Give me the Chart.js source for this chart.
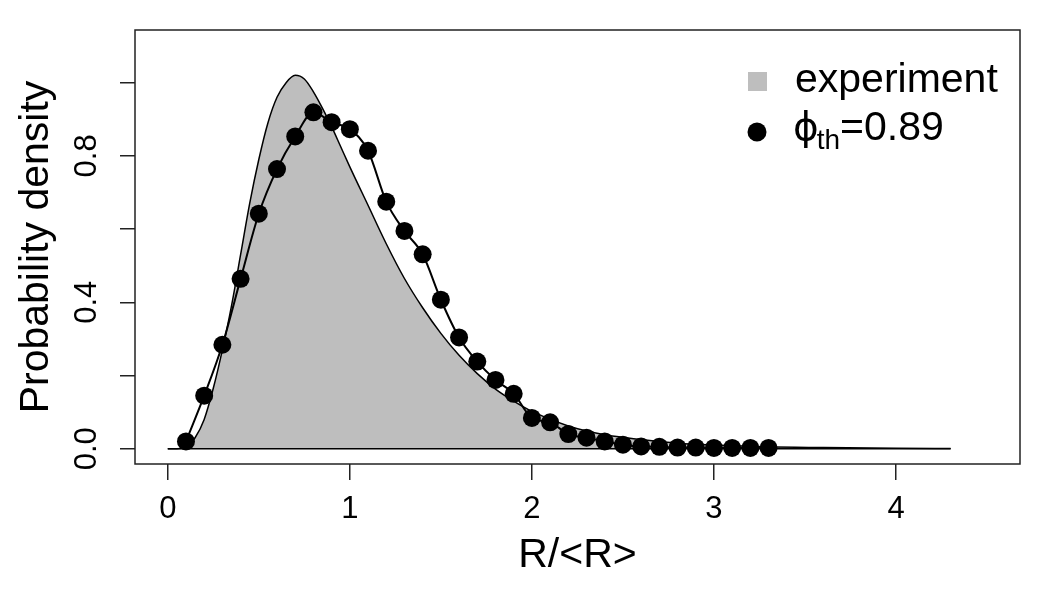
<!DOCTYPE html>
<html>
<head>
<meta charset="utf-8">
<script src="https://cdn.jsdelivr.net/npm/chart.js@4.4.0/dist/chart.umd.min.js"></script>
<style>
  html, body { margin: 0; padding: 0; background: #ffffff; }
  #wrap { width: 1050px; height: 600px; }
</style>
</head>
<body>
<div id="wrap"><canvas id="myChart" width="1050" height="600"></canvas></div>
<script>
// experiment curve (grey filled)
const curveX = [0, 0.05, 0.1, 0.15, 0.2, 0.25, 0.3, 0.35, 0.4, 0.45, 0.5, 0.55, 0.6, 0.65, 0.7, 0.75, 0.8, 0.85, 0.9, 0.95, 1.0, 1.1, 1.2, 1.3, 1.4, 1.5, 1.6, 1.7, 1.8, 1.9, 2.0, 2.2, 2.4, 2.6, 2.8, 3.0, 3.3, 3.6, 4.0, 4.3];
const curveY = [0, 0, 0.003, 0.03, 0.08, 0.165, 0.27, 0.39, 0.53, 0.67, 0.79, 0.89, 0.96, 1.0, 1.02, 1.01, 0.975, 0.93, 0.88, 0.825, 0.77, 0.665, 0.56, 0.465, 0.385, 0.315, 0.255, 0.205, 0.163, 0.13, 0.102, 0.062, 0.038, 0.025, 0.015, 0.01, 0.005, 0.003, 0.001, 0.0005];

// the polygon bottom edge
const baseX = [0, 4.3];
const baseY = [0, 0];

// theory points (phi_th = 0.89)
const pointX = [0.1, 0.2, 0.3, 0.4, 0.5, 0.6, 0.7, 0.8, 0.9, 1.0, 1.1, 1.2, 1.3, 1.4, 1.5, 1.6, 1.7, 1.8, 1.9, 2.0, 2.1, 2.2, 2.3, 2.4, 2.5, 2.6, 2.7, 2.8, 2.9, 3.0, 3.1, 3.2, 3.3];
const pointY = [0.02, 0.145, 0.284, 0.464, 0.642, 0.764, 0.853, 0.919, 0.892, 0.873, 0.814, 0.675, 0.595, 0.531, 0.407, 0.304, 0.238, 0.188, 0.150, 0.084, 0.072, 0.040, 0.030, 0.020, 0.011, 0.006, 0.005, 0.003, 0.003, 0.002, 0.002, 0.002, 0.002];

// ticks
const xTicks = [0, 1, 2, 3, 4];
const yTicks = [0, 0.2, 0.4, 0.6, 0.8, 1.0];
const yLabelled = [0, 0.4, 0.8];

const legendLabels = ['experiment', '0.89'];

const FONT = "'Liberation Sans', Arial, Helvetica, sans-serif";

// make {x,y} pairs
function pairs(xs, ys) {
  let out = [];
  for (let i = 0; i < xs.length; i++) {
    out.push({ x: xs[i], y: ys[i] });
  }
  return out;
}

// box around the plot area + the legend in the top right
const boxAndLegend = {
  id: 'boxAndLegend',
  afterDraw(chart) {
    const ctx = chart.ctx;
    const a = chart.chartArea;
    ctx.save();
    ctx.strokeStyle = '#222222';
    ctx.lineWidth = 1.5;
    ctx.strokeRect(a.left, a.top, a.right - a.left, a.bottom - a.top);

    // legend keys
    ctx.fillStyle = '#bebebe';
    ctx.fillRect(748, 72, 19, 19);
    ctx.fillStyle = '#000000';
    ctx.beginPath();
    ctx.arc(757, 132, 9.5, 0, Math.PI * 2);
    ctx.fill();

    // legend text
    ctx.textAlign = 'left';
    ctx.textBaseline = 'alphabetic';
    ctx.font = '41px ' + FONT;
    ctx.fillText(legendLabels[0], 795, 92);
    // straight phi like R's symbol font
    ctx.font = "39px 'DejaVu Sans', " + FONT;
    ctx.fillText('\u03D5', 793, 140);
    let phiW = ctx.measureText('\u03D5').width;
    ctx.font = '28px ' + FONT;
    ctx.fillText('th', Math.max(806, 793 + phiW - 2), 149);
    ctx.font = '41px ' + FONT;
    ctx.fillText('=' + legendLabels[1], 840, 140);
    ctx.restore();
  }
};

const ctx = document.getElementById('myChart').getContext('2d');
const myChart = new Chart(ctx, {
  type: 'scatter',
  data: {
    datasets: [
      {
        label: 'phi_th=0.89',
        data: pairs(pointX, pointY),
        showLine: true,
        borderColor: '#000000',
        borderWidth: 2,
        backgroundColor: '#000000',
        pointRadius: 9,
        pointBorderWidth: 0,
        cubicInterpolationMode: 'monotone',
        order: 1
      },
      {
        label: 'base',
        data: pairs(baseX, baseY),
        showLine: true,
        borderColor: '#000000',
        borderWidth: 1.5,
        pointRadius: 0,
        order: 2
      },
      {
        label: 'experiment',
        data: pairs(curveX, curveY),
        showLine: true,
        borderColor: '#000000',
        borderWidth: 1.5,
        backgroundColor: '#bebebe',
        fill: 'origin',
        pointRadius: 0,
        cubicInterpolationMode: 'monotone',
        order: 3
      }
    ]
  },
  options: {
    responsive: false,
    animation: false,
    events: [],
    layout: { padding: { left: 0, top: 30, right: 30, bottom: 0 } },
    plugins: {
      legend: { display: false },
      tooltip: { enabled: false }
    },
    scales: {
      x: {
        type: 'linear',
        min: -0.18,
        max: 4.681,
        afterBuildTicks: function (scale) {
          scale.ticks = xTicks.map(v => ({ value: v }));
        },
        afterFit: function (scale) { scale.height = 136; },
        border: { display: false },
        grid: {
          drawOnChartArea: false,
          drawTicks: true,
          tickLength: 16,
          color: '#222222',
          lineWidth: 1.5
        },
        ticks: {
          color: '#000000',
          font: { family: FONT, size: 31 },
          padding: 11,
          maxRotation: 0,
          autoSkip: false,
          callback: function (v) { return String(v); }
        },
        title: {
          display: true,
          text: 'R/<R>',
          color: '#000000',
          font: { family: FONT, size: 41 },
          padding: { top: 0, bottom: 20 }
        }
      },
      y: {
        type: 'linear',
        min: -0.0418,
        max: 1.1439,
        afterBuildTicks: function (scale) {
          scale.ticks = yTicks.map(v => ({ value: v }));
        },
        afterFit: function (scale) { scale.width = 135; },
        border: { display: false },
        grid: {
          drawOnChartArea: false,
          drawTicks: true,
          tickLength: 15,
          color: '#222222',
          lineWidth: 1.5
        },
        ticks: {
          color: '#000000',
          font: { family: FONT, size: 31 },
          padding: 11,
          minRotation: 90,
          maxRotation: 90,
          crossAlign: 'center',
          autoSkip: false,
          callback: function (v) {
            // R only put labels on every other tick
            for (let i = 0; i < yLabelled.length; i++) {
              if (Math.abs(v - yLabelled[i]) < 1e-6) return v.toFixed(1);
            }
            return '';
          }
        },
        title: {
          display: true,
          text: 'Probability density',
          color: '#000000',
          font: { family: FONT, size: 41 },
          padding: { top: 12, bottom: 0 }
        }
      }
    }
  },
  plugins: [boxAndLegend]
});
</script>
</body>
</html>
